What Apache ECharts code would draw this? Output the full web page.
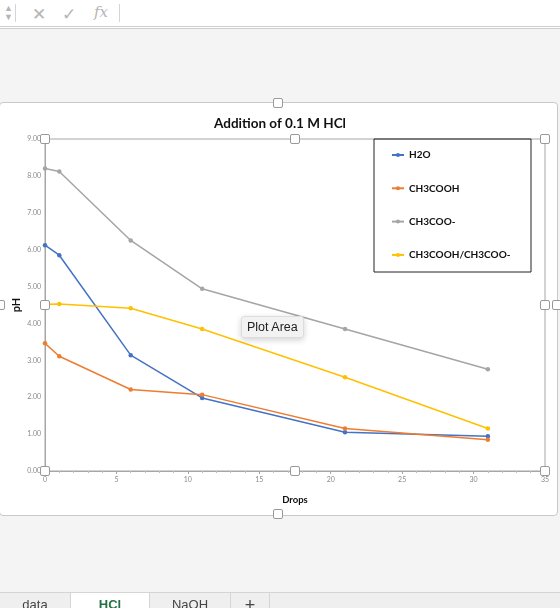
<!DOCTYPE html>
<html>
<head>
<meta charset="utf-8">
<script src="https://cdn.jsdelivr.net/npm/echarts@6/dist/echarts.min.js"></script>
<style>
  html, body { margin: 0; padding: 0; width: 560px; height: 608px; overflow: hidden; background: #f4f4f4; font-family: Lato, "Liberation Sans", sans-serif; }
  .topbar { position: absolute; left: 0; top: 0; width: 560px; height: 26px; background: #fff; border-bottom: 3px double #cfcfcf; }
  .topbar span { position: absolute; top: 3px; color: #b5b5b5; font-size: 17px; }
  .topbar .sep { position: absolute; top: 4px; width: 1px; height: 18px; background: #d5d5d5; }
  .chartbox { position: absolute; left: -1px; top: 102px; width: 557px; height: 412px; background: #fff; border: 1px solid #c9c9c9; border-radius: 4px; }
  #chart { position: absolute; left: 0; top: 0; width: 560px; height: 608px; }
  .handle { position: absolute; width: 8px; height: 8px; margin: -5px 0 0 -5px; background: #fff; border: 1px solid #999; border-radius: 2px; z-index: 3; }
  .tip { position: absolute; left: 241px; top: 316px; padding: 3px 5px; background: #f2f2f2; border: 1px solid #ddd; border-radius: 3px; font-size: 12.5px; color: #222; box-shadow: 0 2px 6px rgba(0,0,0,0.18); z-index: 4; font-family: "Liberation Sans", sans-serif; }
  .tabs { position: absolute; left: 0; top: 592px; width: 560px; height: 20px; background: #efefef; border-top: 1px solid #d5d5d5; }
  .tab { position: absolute; top: 0; height: 20px; text-align: center; font-size: 13px; line-height: 24px; color: #444; border-right: 1px solid #d5d5d5; font-family: "Liberation Sans", sans-serif; }
</style>
</head>
<body>
<div class="topbar">
  <span style="left:4px;font-size:9px;top:3px;line-height:9px;">▲<br>▼</span>
  <div class="sep" style="left:15px"></div>
  <span style="left:32px">✕</span>
  <span style="left:62px">✓</span>
  <span style="left:94px;font-style:italic;font-family:'DejaVu Serif',serif;font-size:15px">fx</span>
  <div class="sep" style="left:119px"></div>
</div>
<div class="chartbox"></div>
<div id="chart"></div>
<div class="tip">Plot Area</div>
<div class="tabs">
  <div class="tab" style="left:0;width:70px">data</div>
  <div class="tab" style="left:71px;width:78px;background:#fff;color:#217346;font-weight:bold">HCl</div>
  <div class="tab" style="left:150px;width:80px">NaOH</div>
  <div class="tab" style="left:231px;width:38px;font-size:18px">+</div>
</div>
<script>
const drops = [0, 1, 6, 11, 21, 31]
const seriesNames = ['H2O', 'CH3COOH', 'CH3COO-', 'CH3COOH/CH3COO-']
const h2o = [6.12, 5.85, 3.14, 1.98, 1.05, 0.94]
const ch3cooh = [3.46, 3.11, 2.21, 2.07, 1.15, 0.85]
const ch3coo = [8.2, 8.12, 6.25, 4.94, 3.85, 2.76]
const buffer = [4.52, 4.53, 4.41, 3.85, 2.54, 1.15]
const colors = ['#4472C4', '#ED7D31', '#A5A5A5', '#FFC000']

const grid = { left: 45, top: 139, width: 500, height: 332 }

function pairs(values) {
  return drops.map((x, i) => [x, values[i]])
}

const tickLabel = { fontSize: 7, color: '#8a8a8a', fontFamily: 'Lato' }
const axisLine = { lineStyle: { color: '#a6a6a6', width: 1 } }

const chart = echarts.init(document.getElementById('chart'), null, { renderer: 'canvas' })

chart.setOption({
  animation: false,
  color: colors,
  title: {
    text: 'Addition of 0.1 M HCl',
    left: 'center',
    top: 112,
    textStyle: { fontSize: 13.5, fontWeight: 'bold', color: '#111', fontFamily: 'Lato' },
  },
  grid: {
    ...grid,
    outerBoundsMode: 'none',
    containLabel: false,
    show: true,
    borderColor: '#a6a6a6',
    borderWidth: 1,
    backgroundColor: 'transparent',
  },
  legend: {
    orient: 'vertical',
    left: 386,
    top: 145,
    itemWidth: 12,
    itemHeight: 5,
    itemGap: 23.3,
    data: seriesNames,
    textStyle: { fontSize: 10, fontWeight: 'bold', color: '#111', fontFamily: 'Lato' },
  },
  graphic: [
    {
      type: 'rect',
      shape: { x: 374, y: 139, width: 157, height: 133 },
      style: { fill: 'none', stroke: '#222', lineWidth: 1 },
      z: 10,
    },
  ],
  xAxis: {
    type: 'value',
    min: 0,
    max: 35,
    interval: 5,
    name: 'Drops',
    nameLocation: 'middle',
    nameGap: 24,
    nameMoveOverlap: false,
    nameTextStyle: { fontSize: 9.5, fontWeight: 'bold', color: '#111', fontFamily: 'Lato' },
    axisLine: axisLine,
    axisTick: { show: true, length: 3, inside: false, lineStyle: { color: '#a6a6a6' } },
    minorTick: { show: true, splitNumber: 5, length: 2, lineStyle: { color: '#c0c0c0' } },
    splitLine: { show: false },
    axisLabel: { ...tickLabel, margin: 5 },
  },
  yAxis: {
    type: 'value',
    min: 0,
    max: 9,
    interval: 1,
    name: 'pH',
    nameLocation: 'middle',
    nameGap: 23,
    nameMoveOverlap: false,
    nameTextStyle: { fontSize: 11, fontWeight: 'bold', color: '#111', fontFamily: 'Lato' },
    axisLine: { show: true, ...axisLine },
    axisTick: { show: false },
    splitLine: { show: false },
    axisLabel: { ...tickLabel, margin: 4, formatter: (v) => v.toFixed(2) },
  },
  series: [h2o, ch3cooh, ch3coo, buffer].map((values, i) => ({
    name: seriesNames[i],
    type: 'line',
    data: pairs(values),
    symbol: 'circle',
    symbolSize: 4.5,
    lineStyle: { width: 1.5, color: colors[i] },
    itemStyle: { color: colors[i] },
  })),
})

// selection handles on the plot area and chart area
const handlePts = [
  [45, 139], [295, 139], [545, 139],
  [45, 305], [545, 305],
  [45, 471], [295, 471], [545, 471],
  [278, 103], [278, 514], [557, 305], [0, 305],
]
handlePts.forEach(([x, y]) => {
  const d = document.createElement('div')
  d.className = 'handle'
  d.style.left = x + 'px'
  d.style.top = y + 'px'
  document.body.appendChild(d)
})
</script>
</body>
</html>
